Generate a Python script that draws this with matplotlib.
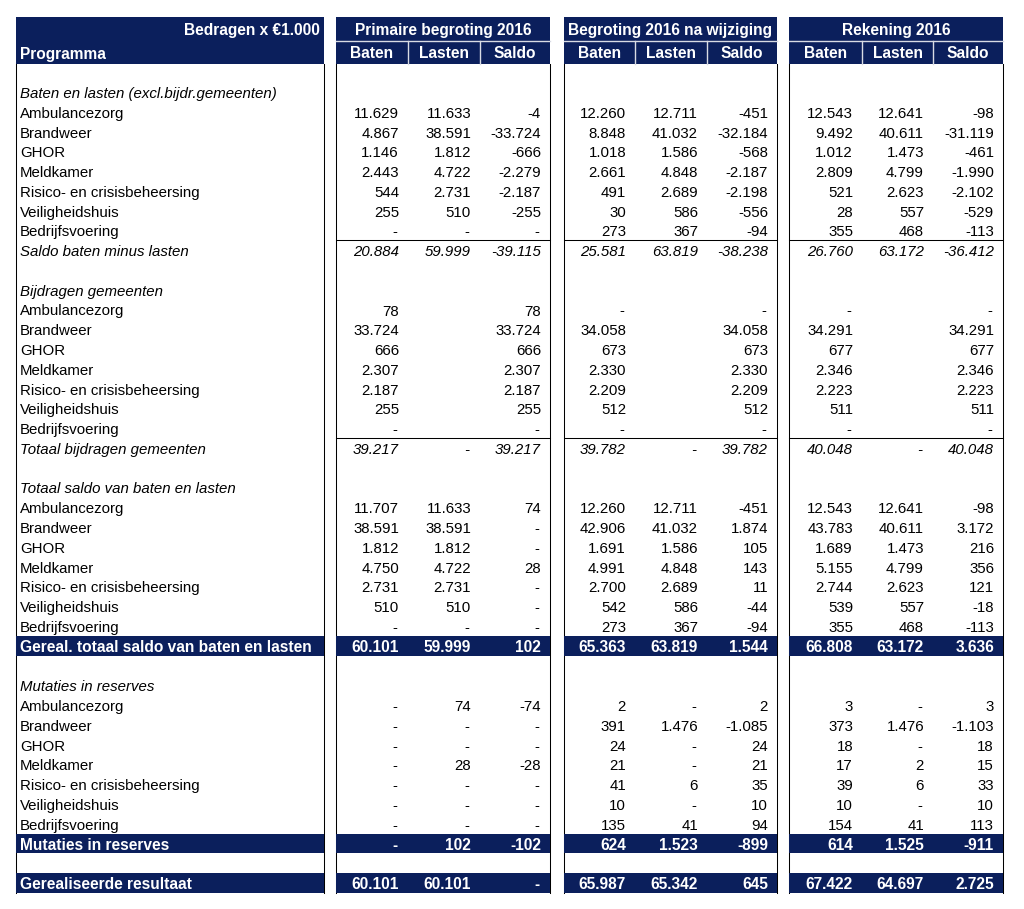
import matplotlib
matplotlib.use("Agg")
import matplotlib.pyplot as plt
from matplotlib.patches import Rectangle

plt.rcParams['font.family'] = ['Liberation Sans', 'DejaVu Sans']

# ---------------- data ----------------
unit_label = "Bedragen x €1.000"
first_col_label = "Programma"
blocks = ["Primaire begroting 2016", "Begroting 2016 na wijziging", "Rekening 2016"]
subcols = ["Baten", "Lasten", "Saldo"]
programmas = ["Ambulancezorg", "Brandweer", "GHOR", "Meldkamer",
              "Risico- en crisisbeheersing", "Veiligheidshuis", "Bedrijfsvoering"]

# values per row: [PB baten, PB lasten, PB saldo, BW baten, BW lasten, BW saldo, RK baten, RK lasten, RK saldo]
# 0 -> shown as "-", None -> empty cell
baten_lasten = [
    [11629, 11633, -4, 12260, 12711, -451, 12543, 12641, -98],
    [4867, 38591, -33724, 8848, 41032, -32184, 9492, 40611, -31119],
    [1146, 1812, -666, 1018, 1586, -568, 1012, 1473, -461],
    [2443, 4722, -2279, 2661, 4848, -2187, 2809, 4799, -1990],
    [544, 2731, -2187, 491, 2689, -2198, 521, 2623, -2102],
    [255, 510, -255, 30, 586, -556, 28, 557, -529],
    [0, 0, 0, 273, 367, -94, 355, 468, -113],
]
saldo_baten_lasten = [20884, 59999, -39115, 25581, 63819, -38238, 26760, 63172, -36412]

bijdragen = [
    [78, None, 78, 0, None, 0, 0, None, 0],
    [33724, None, 33724, 34058, None, 34058, 34291, None, 34291],
    [666, None, 666, 673, None, 673, 677, None, 677],
    [2307, None, 2307, 2330, None, 2330, 2346, None, 2346],
    [2187, None, 2187, 2209, None, 2209, 2223, None, 2223],
    [255, None, 255, 512, None, 512, 511, None, 511],
    [0, None, 0, 0, None, 0, 0, None, 0],
]
totaal_bijdragen = [39217, 0, 39217, 39782, 0, 39782, 40048, 0, 40048]

totaal_saldo = [
    [11707, 11633, 74, 12260, 12711, -451, 12543, 12641, -98],
    [38591, 38591, 0, 42906, 41032, 1874, 43783, 40611, 3172],
    [1812, 1812, 0, 1691, 1586, 105, 1689, 1473, 216],
    [4750, 4722, 28, 4991, 4848, 143, 5155, 4799, 356],
    [2731, 2731, 0, 2700, 2689, 11, 2744, 2623, 121],
    [510, 510, 0, 542, 586, -44, 539, 557, -18],
    [0, 0, 0, 273, 367, -94, 355, 468, -113],
]
gereal_totaal = [60101, 59999, 102, 65363, 63819, 1544, 66808, 63172, 3636]

mutaties = [
    [0, 74, -74, 2, 0, 2, 3, 0, 3],
    [0, 0, 0, 391, 1476, -1085, 373, 1476, -1103],
    [0, 0, 0, 24, 0, 24, 18, 0, 18],
    [0, 28, -28, 21, 0, 21, 17, 2, 15],
    [0, 0, 0, 41, 6, 35, 39, 6, 33],
    [0, 0, 0, 10, 0, 10, 10, 0, 10],
    [0, 0, 0, 135, 41, 94, 154, 41, 113],
]
mutaties_totaal = [0, 102, -102, 624, 1523, -899, 614, 1525, -911]
resultaat = [60101, 60101, 0, 65987, 65342, 645, 67422, 64697, 2725]

# ---------------- assemble rows ----------------
rows = [("blank", "", None)]
rows.append(("section", "Baten en lasten (excl.bijdr.gemeenten)", None))
rows += [("item", p, v) for p, v in zip(programmas, baten_lasten)]
rows.append(("subtotal", "Saldo baten minus lasten", saldo_baten_lasten))
rows.append(("blank", "", None))
rows.append(("section", "Bijdragen gemeenten", None))
rows += [("item", p, v) for p, v in zip(programmas, bijdragen)]
rows.append(("subtotal", "Totaal bijdragen gemeenten", totaal_bijdragen))
rows.append(("blank", "", None))
rows.append(("section", "Totaal saldo van baten en lasten", None))
rows += [("item", p, v) for p, v in zip(programmas, totaal_saldo)]
rows.append(("bar", "Gereal. totaal saldo van baten en lasten", gereal_totaal))
rows.append(("blank", "", None))
rows.append(("section", "Mutaties in reserves", None))
rows += [("item", p, v) for p, v in zip(programmas, mutaties)]
rows.append(("bar", "Mutaties in reserves", mutaties_totaal))
rows.append(("blank", "", None))
rows.append(("bar", "Gerealiseerde resultaat", resultaat))


def fmt(v):
    if v is None:
        return ""
    if v == 0:
        return "-"
    s = f"{abs(v):,}".replace(",", ".")
    return ("-" if v < 0 else "") + s


# ---------------- layout (pixels) ----------------
W, H = 1024, 909
NAVY = "#0b1f5c"
label_x0, label_x1 = 16, 324
block_edges = [(336, 408, 480, 550), (564, 635, 707, 777), (789, 862, 933, 1003)]
head_top, head_mid, head_bot = 17, 40.5, 63.5
row_c0, row_h = 72.2, 19.775
body_bottom = row_c0 + (len(rows) - 1) * row_h + row_h / 2
pad_r = 9
FS = 10.8
FSB = 11.2
LW = 0.75

fig = plt.figure(figsize=(W / 100, H / 100), dpi=100)
ax = fig.add_axes([0, 0, 1, 1])
ax.set_xlim(0, W)
ax.set_ylim(H, 0)
ax.axis("off")

# header backgrounds
ax.add_patch(Rectangle((label_x0, head_top), label_x1 - label_x0, head_bot - head_top,
                       facecolor=NAVY, edgecolor="none", zorder=1))
ax.text(label_x1 - 4, (head_top + head_mid) / 2 + 2, unit_label, color="white",
        fontsize=FSB, fontweight="bold", ha="right", va="center", zorder=5)
ax.text(label_x0 + 4, (head_mid + head_bot) / 2 + 2, first_col_label, color="white",
        fontsize=FSB, fontweight="bold", ha="left", va="center", zorder=5)

for bname, e in zip(blocks, block_edges):
    ax.add_patch(Rectangle((e[0], head_top), e[3] - e[0], head_bot - head_top,
                           facecolor=NAVY, edgecolor="none", zorder=1))
    ax.plot([e[0], e[3]], [head_mid, head_mid], color="#d8dbe4", lw=1.0, zorder=3)
    for xd in (e[1], e[2]):
        ax.plot([xd, xd], [head_mid, head_bot], color="#d8dbe4", lw=1.0, zorder=3)
    ax.text((e[0] + e[3]) / 2, (head_top + head_mid) / 2 + 2, bname, color="white",
            fontsize=FSB, fontweight="bold", ha="center", va="center", zorder=5)
    for j, sc in enumerate(subcols):
        ax.text((e[j] + e[j + 1]) / 2, (head_mid + head_bot) / 2 + 2, sc, color="white",
                fontsize=FSB, fontweight="bold", ha="center", va="center", zorder=5)

# frame lines of the body
for x in (label_x0, label_x1):
    ax.plot([x, x], [head_bot, body_bottom], color="black", lw=LW, zorder=2)
for e in block_edges:
    for x in (e[0], e[3]):
        ax.plot([x, x], [head_bot, body_bottom], color="black", lw=LW, zorder=2)

# rows
for i, (kind, label, vals) in enumerate(rows):
    yc = row_c0 + i * row_h
    ytop = yc - row_h / 2
    ty = yc + 2.0
    if kind == "bar":
        ax.add_patch(Rectangle((label_x0, ytop), label_x1 - label_x0, row_h,
                               facecolor=NAVY, edgecolor="none", zorder=3))
        for e in block_edges:
            ax.add_patch(Rectangle((e[0], ytop), e[3] - e[0], row_h,
                                   facecolor=NAVY, edgecolor="none", zorder=3))
    if kind == "subtotal":
        for e in block_edges:
            ax.plot([e[0], e[3]], [ytop, ytop], color="black", lw=LW, zorder=2)

    color = "white" if kind == "bar" else "black"
    weight = "bold" if kind == "bar" else "normal"
    style = "italic" if kind in ("section", "subtotal") else "normal"
    fs = FSB if kind == "bar" else FS
    if label:
        ax.text(label_x0 + 4, ty, label, color=color, fontsize=fs, fontweight=weight,
                fontstyle=style, ha="left", va="center", zorder=5)
    if vals is not None:
        for b, e in enumerate(block_edges):
            for j in range(3):
                s = fmt(vals[b * 3 + j])
                if not s:
                    continue
                xr = e[j + 1] - pad_r
                if s == "-":
                    xr -= 1.5
                ax.text(xr, ty, s, color=color, fontsize=fs, fontweight=weight,
                        fontstyle=style, ha="right", va="center", zorder=5)

fig.savefig("out.png", dpi=100)
